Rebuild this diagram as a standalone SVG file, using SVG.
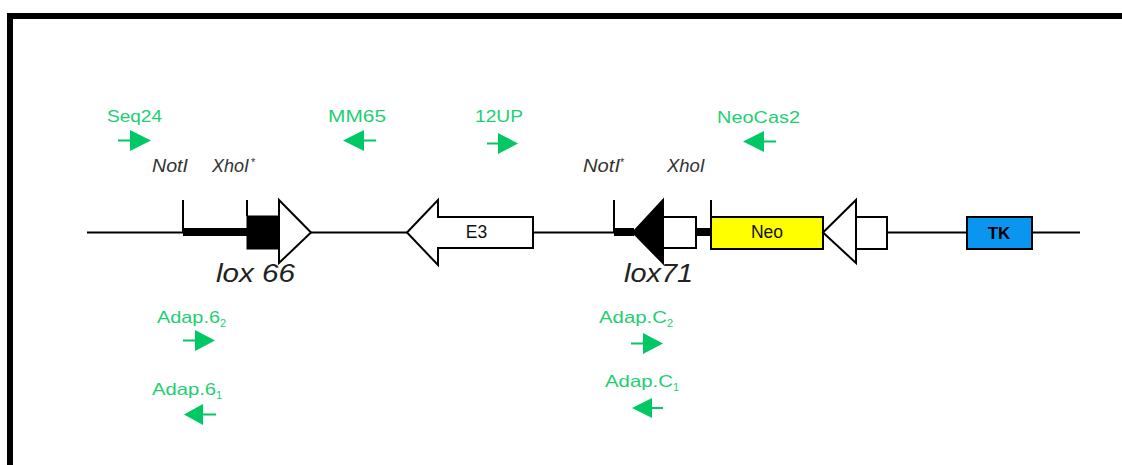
<svg xmlns="http://www.w3.org/2000/svg" width="1122" height="465" viewBox="0 0 1122 465">
<style>
.pl{font-family:"Liberation Sans",Arial,sans-serif;font-size:16.5px;fill:#1ecf72}
.ar{fill:#00c864;stroke:none}
.arl{stroke:#00c864;stroke-width:2;fill:none}
.site{font-family:"Liberation Sans",Arial,sans-serif;font-size:18px;font-style:italic;fill:#333}
.ast{font-family:"Liberation Sans",Arial,sans-serif;font-size:11px;fill:#333}
.lox{font-family:"Liberation Sans",Arial,sans-serif;font-size:26px;font-style:italic;fill:#222}
.blk{stroke:#000;stroke-width:2;fill:#fff}
.lbl{font-family:"Liberation Sans",Arial,sans-serif;font-size:17.5px;fill:#111;text-anchor:middle}
</style>
<rect x="10" y="16" width="1200" height="600" fill="#fff" stroke="#000" stroke-width="6"/>

<g id="connectors">
<line x1="87" y1="232.5" x2="183" y2="232.5" stroke="#000" stroke-width="2"/>
<line x1="311" y1="232.5" x2="407" y2="232.5" stroke="#000" stroke-width="2"/>
<line x1="533" y1="232.5" x2="614" y2="232.5" stroke="#000" stroke-width="2"/>
<line x1="887" y1="232.5" x2="967" y2="232.5" stroke="#000" stroke-width="2"/>
<line x1="1032" y1="232.5" x2="1080" y2="232.5" stroke="#000" stroke-width="2"/>
</g>

<g id="lox66">
<line x1="183" y1="200" x2="183" y2="233" stroke="#000" stroke-width="2"/>
<rect x="183" y="228" width="64" height="8" fill="#000"/>
<line x1="247" y1="200" x2="247" y2="216" stroke="#000" stroke-width="2"/>
<rect x="247" y="216" width="32" height="33" fill="#000" stroke="#000" stroke-width="1"/>
<polygon class="blk" points="279,200 279,263 311,232.5"/>
<text class="lox" x="216" y="282" textLength="79" lengthAdjust="spacingAndGlyphs">lox 66</text>
</g>

<g id="E3">
<polygon class="blk" points="407,232.5 438,200 438,217 533,217 533,248 438,248 438,265"/>
<text class="lbl" x="476.5" y="237.5">E3</text>
</g>

<g id="lox71">
<line x1="614" y1="200" x2="614" y2="233" stroke="#000" stroke-width="2"/>
<rect x="614" y="228" width="20" height="8" fill="#000"/>
<polygon points="633,232.5 663,200 663,263" fill="#000" stroke="#000" stroke-width="2"/>
<rect class="blk" x="663" y="217" width="33" height="31"/>
<rect x="696" y="228" width="15" height="8" fill="#000"/>
<line x1="711" y1="200" x2="711" y2="217" stroke="#000" stroke-width="2"/>
<text class="lox" x="624" y="282" textLength="69" lengthAdjust="spacingAndGlyphs">lox71</text>
</g>

<g id="Neo">
<rect x="711" y="217" width="112" height="32" fill="#ffff00" stroke="#000" stroke-width="2"/>
<text class="lbl" x="767" y="238">Neo</text>
</g>

<g id="promoter">
<polygon class="blk" points="823,232.5 856,200 856,263"/>
<rect class="blk" x="856" y="217" width="31" height="32"/>
</g>

<g id="TK">
<rect x="967" y="217" width="65" height="32" fill="#0a96f0" stroke="#000" stroke-width="2"/>
<text x="999" y="239" font-family="Liberation Sans,Arial,sans-serif" font-size="17" font-weight="bold" fill="#000" text-anchor="middle">TK</text>
</g>

<g id="sites">
<text class="site" x="152" y="172" textLength="36" lengthAdjust="spacingAndGlyphs">NotI</text>
<text class="site" x="212" y="172" textLength="37" lengthAdjust="spacingAndGlyphs">XhoI</text>
<text class="ast" x="251" y="166">*</text>
<text class="site" x="583" y="172" textLength="37" lengthAdjust="spacingAndGlyphs">NotI</text>
<text class="ast" x="620" y="166">*</text>
<text class="site" x="667" y="172" textLength="38" lengthAdjust="spacingAndGlyphs">XhoI</text>
</g>

<g id="Seq24">
<text class="pl" x="107" y="122" textLength="55" lengthAdjust="spacingAndGlyphs">Seq24</text>
<line class="arl" x1="118" y1="140.5" x2="131" y2="140.5"/>
<polygon class="ar" points="130,130 130,151 151,140.5"/>
</g>

<g id="MM65">
<text class="pl" x="328" y="122" textLength="58" lengthAdjust="spacingAndGlyphs">MM65</text>
<line class="arl" x1="363" y1="140.5" x2="376" y2="140.5"/>
<polygon class="ar" points="364,130 364,151 343,140.5"/>
</g>

<g id="UP12">
<text class="pl" x="475" y="122" textLength="48" lengthAdjust="spacingAndGlyphs">12UP</text>
<line class="arl" x1="487" y1="143.5" x2="499" y2="143.5"/>
<polygon class="ar" points="498,133 498,154 518,143.5"/>
</g>

<g id="NeoCas2">
<text class="pl" x="717" y="123" textLength="83" lengthAdjust="spacingAndGlyphs">NeoCas2</text>
<line class="arl" x1="763" y1="141.5" x2="776" y2="141.5"/>
<polygon class="ar" points="764,131 764,152 743,141.5"/>
</g>

<g id="Adap62">
<text class="pl" x="157" y="323"><tspan textLength="63" lengthAdjust="spacingAndGlyphs">Adap.6</tspan><tspan font-size="11" dy="4">2</tspan></text>
<line class="arl" x1="183" y1="340.5" x2="196" y2="340.5"/>
<polygon class="ar" points="195,330 195,351 215,340.5"/>
</g>

<g id="Adap61">
<text class="pl" x="152" y="395"><tspan textLength="64" lengthAdjust="spacingAndGlyphs">Adap.6</tspan><tspan font-size="11" dy="4">1</tspan></text>
<line class="arl" x1="202" y1="414.5" x2="216" y2="414.5"/>
<polygon class="ar" points="203,404 203,425 184,414.5"/>
</g>

<g id="AdapC2">
<text class="pl" x="599" y="323"><tspan textLength="68" lengthAdjust="spacingAndGlyphs">Adap.C</tspan><tspan font-size="11" dy="4">2</tspan></text>
<line class="arl" x1="631" y1="343.5" x2="644" y2="343.5"/>
<polygon class="ar" points="643,333 643,354 663,343.5"/>
</g>

<g id="AdapC1">
<text class="pl" x="605" y="387"><tspan textLength="68" lengthAdjust="spacingAndGlyphs">Adap.C</tspan><tspan font-size="11" dy="4">1</tspan></text>
<line class="arl" x1="651" y1="408" x2="663" y2="408"/>
<polygon class="ar" points="652,398 652,418 632,408"/>
</g>
</svg>
